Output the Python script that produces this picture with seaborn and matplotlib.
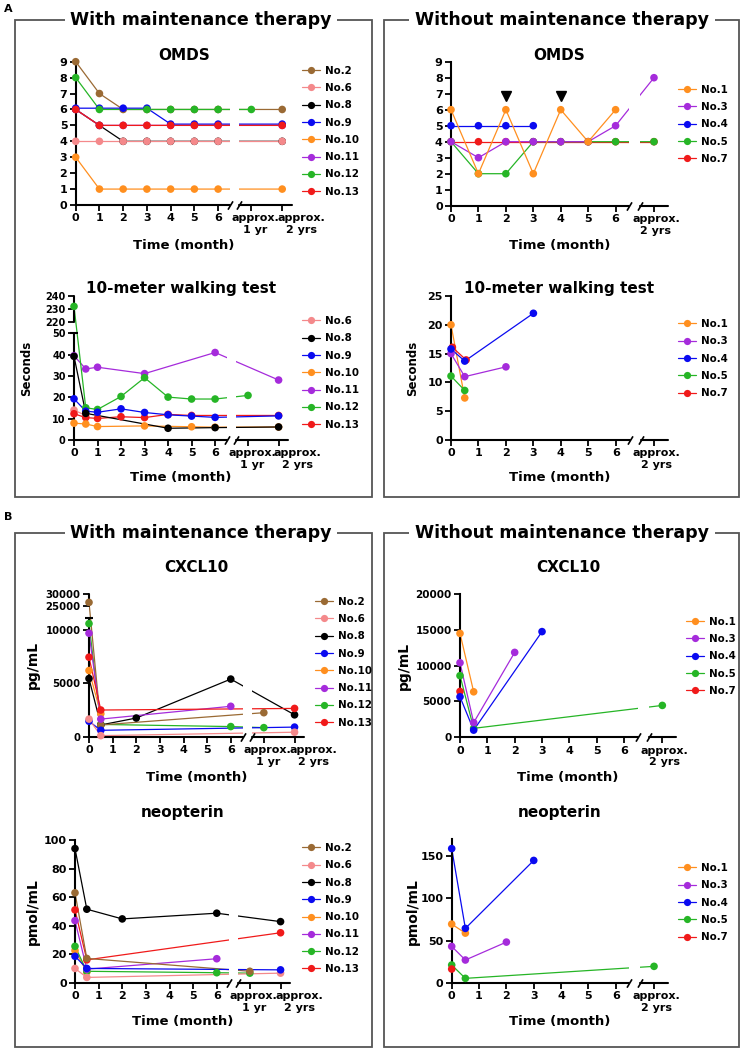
import numpy as np
import pandas as pd
import seaborn as sns
import matplotlib.pyplot as plt
from matplotlib.lines import Line2D
from matplotlib.patches import Rectangle

W, H = 742, 1049

# colour of every patient
colors = {'No.1': '#FF8F1F', 'No.2': '#9A6A34', 'No.3': '#A52BDB', 'No.4': '#0A0AF0',
          'No.5': '#26B526', 'No.6': '#F4898B', 'No.7': '#F01A1A', 'No.8': '#000000',
          'No.9': '#0A0AF0', 'No.10': '#FF8F1F', 'No.11': '#A52BDB', 'No.12': '#26B526',
          'No.13': '#F01A1A'}

with_patients = ['No.2', 'No.6', 'No.8', 'No.9', 'No.10', 'No.11', 'No.12', 'No.13']
walk_patients = ['No.6', 'No.8', 'No.9', 'No.10', 'No.11', 'No.12', 'No.13']
without_patients = ['No.1', 'No.3', 'No.4', 'No.5', 'No.7']

left_ticks = [0, 1, 2, 3, 4, 5, 6, '1yr', '2yr']
left_ticklabels = ['0', '1', '2', '3', '4', '5', '6', 'approx.\n1 yr', 'approx.\n2 yrs']
right_ticks = [0, 1, 2, 3, 4, 5, 6, '2yr']
right_ticklabels = ['0', '1', '2', '3', '4', '5', '6', 'approx.\n2 yrs']

# time (month or label) -> value
omds_with = {
    'No.2': ([0, 1, 2, 3, 4, 5, 6, '2yr'], [9, 7, 6, 6, 6, 6, 6, 6]),
    'No.6': ([0, 1, 2, 3, 4, 5, 6, '2yr'], [4, 4, 4, 4, 4, 4, 4, 4]),
    'No.8': ([0, 1, 2, 3, 4, 5, 6, '2yr'], [6, 5, 4, 4, 4, 4, 4, 4]),
    'No.9': ([0, 1, 2, 3, 4, 5, 6, '2yr'], [6.08, 6.08, 6.08, 6.08, 5.08, 5.08, 5.08, 5.08]),
    'No.10': ([0, 1, 2, 3, 4, 5, 6, '2yr'], [3, 1, 1, 1, 1, 1, 1, 1]),
    'No.11': ([0, 1, 2, 3, 4, 5, 6, '2yr'], [6, 5, 5, 5, 5, 5, 5, 5]),
    'No.12': ([0, 1, 3, 4, 5, 6, '1yr'], [8, 6, 6, 6, 6, 6, 6]),
    'No.13': ([0, 1, 2, 3, 4, 5, 6, '2yr'], [6, 5, 5, 5, 5, 5, 5, 5]),
}
omds_with_order = ['No.2', 'No.8', 'No.6', 'No.11', 'No.9', 'No.12', 'No.10', 'No.13']

omds_without = {
    'No.1': ([0, 1, 2, 3, 4, 5, 6], [6, 2, 6, 2, 6, 4, 6]),
    'No.3': ([0, 1, 2, 3, 4, 5, 6, '2yr'], [4, 3, 4, 4, 4, 4, 5, 8]),
    'No.4': ([0, 1, 2, 3], [5, 5, 5, 5]),
    'No.5': ([0, 1, 2, 3, 4, 5, 6, '2yr'], [4, 2, 2, 4, 4, 4, 4, 4]),
    'No.7': ([0, 1, 2, 3, 4, 5, 6, '2yr'], [4, 4, 4, 4, 4, 4, 4, 4]),
}
omds_without_order = ['No.7', 'No.5', 'No.3', 'No.4', 'No.1']
omds_arrows = [2, 4]

walk_with = {
    'No.6': ([0, 0.5], [14, 11.5]),
    'No.8': ([0, 0.5, 4, 6, '2yr'], [39.2, 12.5, 5.5, 5.8, 6.1]),
    'No.9': ([0, 0.5, 1, 2, 3, 4, 5, 6, '2yr'], [19.3, 13.5, 13, 14.6, 12.9, 11.8, 11.2, 10.6, 11.3]),
    'No.10': ([0, 0.5, 1, 3, 5, 6, '2yr'], [7.9, 7.5, 6.3, 6.6, 6.2, 6.0, 6.1]),
    'No.11': ([0, 0.5, 1, 3, 6, '2yr'], [39.5, 33.3, 34.1, 31.1, 41, 28.1]),
    'No.12': ([0, 0.5, 1, 2, 3, 4, 5, 6, '1yr'], [232, 15.1, 14.3, 20.4, 29.2, 20.1, 19.2, 19.2, 20.9]),
    'No.13': ([0, 0.5, 1, 2, 3, 4, 5, '2yr'], [12.3, 10.5, 10.1, 10.9, 10.5, 12, 11.5, 11.5]),
}
walk_with_order = ['No.11', 'No.12', 'No.6', 'No.13', 'No.10', 'No.9', 'No.8']

walk_without = {
    'No.1': ([0, 0.5], [20, 7.3]),
    'No.3': ([0, 0.5, 2], [15, 11, 12.7]),
    'No.4': ([0, 0.5, 3], [15.8, 13.7, 22]),
    'No.5': ([0, 0.5], [11.1, 8.6]),
    'No.7': ([0.05, 0.55], [16.1, 13.9]),
}
walk_without_order = ['No.1', 'No.3', 'No.5', 'No.7', 'No.4']

cxcl_with = {
    'No.2': ([0, 0.5, '1yr'], [26500, 1100, 2250]),
    'No.6': ([0, 0.5, '2yr'], [1650, 100, 420]),
    'No.8': ([0, 0.5, 2, 6, '2yr'], [5450, 1100, 1750, 5400, 2050]),
    'No.9': ([0, 0.5, '2yr'], [1450, 600, 900]),
    'No.10': ([0, 0.5], [6200, 2150]),
    'No.11': ([0, 0.5, 6], [9700, 1650, 2850]),
    'No.12': ([0, 0.5, 6, '1yr'], [10600, 1150, 950, 850]),
    'No.13': ([0, 0.5, '2yr'], [7450, 2500, 2650]),
}
cxcl_with_order = ['No.12', 'No.8', 'No.2', 'No.9', 'No.6', 'No.10', 'No.11', 'No.13']

cxcl_without = {
    'No.1': ([0, 0.5], [14500, 6350]),
    'No.3': ([0, 0.5, 2], [10400, 2050, 11850]),
    'No.4': ([0, 0.5, 3], [5650, 1000, 14750]),
    'No.5': ([0, 0.5, '2yr'], [8600, 1250, 4450]),
    'No.7': ([0], [6400]),
}
cxcl_without_order = ['No.5', 'No.7', 'No.1', 'No.3', 'No.4']

neo_with = {
    'No.2': ([0, 0.5, '1yr'], [63, 17, 8]),
    'No.6': ([0, 0.5, '2yr'], [10, 3.7, 6.7]),
    'No.8': ([0, 0.5, 2, 6, '2yr'], [94, 51.5, 44.7, 48.7, 42.8]),
    'No.9': ([0, 0.5, '2yr'], [18.5, 10, 9]),
    'No.10': ([0, 0.5], [22.5, 7.5]),
    'No.11': ([0, 0.5, 6], [43.5, 9.5, 16.8]),
    'No.12': ([0, 0.5, 6, '1yr'], [25.5, 8, 7, 6.7]),
    'No.13': ([0, 0.5, '2yr'], [51, 16, 35]),
}
neo_with_order = ['No.10', 'No.12', 'No.11', 'No.6', 'No.13', 'No.2', 'No.9', 'No.8']

neo_without = {
    'No.1': ([0, 0.5], [69.7, 59]),
    'No.3': ([0, 0.5, 2], [43.3, 27.2, 48.4]),
    'No.4': ([0, 0.5, 3], [159, 64.6, 145]),
    'No.5': ([0, 0.5, '2yr'], [21.3, 5.5, 19.7]),
    'No.7': ([0], [16.5]),
}
neo_without_order = ['No.5', 'No.7', 'No.3', 'No.1', 'No.4']

sns.set_style('ticks')
plt.rcParams['font.family'] = ['DejaVu Sans']
plt.rcParams['font.weight'] = 'bold'
plt.rcParams['axes.labelweight'] = 'bold'
plt.rcParams['axes.titleweight'] = 'bold'
plt.rcParams['text.color'] = 'black'

fig = plt.figure(figsize=(W / 100, H / 100), dpi=100)

LEFT_POS = {'1yr': 7.4, '2yr': 8.7}
RIGHT_POS = {'2yr': 7.4}
# shift (px) of the "approx." labels, as GraphPad spread them apart
LEFT_SHIFT = {'1yr': 4, '2yr': 19}
RIGHT_SHIFT = {'2yr': 2}


def fx(px):
    return px / W


def fy(py):
    return 1 - py / H


def broken_scale(lo, hi, gap, ratio):
    def fwd(y):
        y = np.asarray(y, dtype=float)
        return np.where(y <= lo, y, np.where(y >= hi, lo + gap + (y - hi) * ratio,
                                             lo + (y - lo) * gap / (hi - lo)))

    def inv(u):
        u = np.asarray(u, dtype=float)
        return np.where(u <= lo, u, np.where(u >= lo + gap, hi + (u - lo - gap) / ratio,
                                             lo + (u - lo) * (hi - lo) / gap))
    return fwd, inv


def draw_panel(box, series, legend_order, draw_order, pos, shift, ticks, ticklabels, xmax,
               yticks, ylim, title, title_y, xlabel_y, legend_xy,
               ylabel=None, ylabel_x=None, ylabel_size=10, scale=None, segments=None,
               ytick_size=8):
    x0, y0, x1, y1 = box
    ax = fig.add_axes([fx(x0), fy(y1), fx(x1 - x0), (y1 - y0) / H])
    rows = []
    for name in draw_order:
        t, v = series[name]
        for ti, vi in zip(t, v):
            rows.append((name, pos.get(ti, ti), vi))
    df = pd.DataFrame(rows, columns=['patient', 'x', 'y'])

    sns.lineplot(data=df, x='x', y='y', hue='patient', hue_order=draw_order, palette=colors,
                 estimator=None, errorbar=None, lw=0.9, legend=False, ax=ax, zorder=2)
    # gap of the lines at the axis break
    ax.axvspan(6.5, 6.9, color='white', lw=0, zorder=2.3)
    sns.scatterplot(data=df, x='x', y='y', hue='patient', palette=colors, s=30, linewidth=0,
                    legend=False, ax=ax, zorder=3, clip_on=False)

    if scale is not None:
        ax.set_yscale('function', functions=scale)
    ax.set_xlim(0, xmax)
    ax.set_ylim(*ylim)
    ax.set_xticks([pos.get(t, t) for t in ticks])
    ax.set_xticklabels([lab if not isinstance(t, str) else '' for t, lab in zip(ticks, ticklabels)])
    for t, lab in zip(ticks, ticklabels):
        if isinstance(t, str):
            ax.annotate(lab, xy=(pos[t], 0), xycoords=ax.get_xaxis_transform(),
                        xytext=(shift[t] * 0.72, -6), textcoords='offset points',
                        ha='center', va='top', fontsize=8, fontweight='bold',
                        annotation_clip=False)
    ax.set_yticks(yticks)
    ax.set_yticklabels([str(v) for v in yticks])
    ax.tick_params(direction='out', length=4, width=1.3, pad=2, colors='black')
    ax.tick_params(axis='x', labelsize=8)
    ax.tick_params(axis='y', labelsize=ytick_size)
    ax.xaxis.set_minor_locator(plt.NullLocator())
    ax.yaxis.set_minor_locator(plt.NullLocator())
    for side in ['top', 'right', 'bottom']:
        ax.spines[side].set_visible(False)
    ax.spines['left'].set_linewidth(1.5)
    ax.spines['left'].set_color('black')

    # broken x axis
    xt = ax.get_xaxis_transform()
    ax.plot([0, 6.5], [0, 0], color='k', lw=1.5, transform=xt, clip_on=False, zorder=2.6)
    ax.plot([6.9, xmax], [0, 0], color='k', lw=1.5, transform=xt, clip_on=False, zorder=2.6)
    ax.plot([6.5, 6.9], [0, 0], transform=xt, ls='none', marker=[(-0.6, -1), (0.6, 1)],
            ms=6, mew=1.2, mec='k', color='k', clip_on=False, zorder=2.6)

    # broken y axis
    if segments is not None:
        ax.spines['left'].set_visible(False)
        yt = ax.get_yaxis_transform()
        for a, b in segments:
            ax.plot([0, 0], [a, b], color='k', lw=1.5, transform=yt, clip_on=False,
                    zorder=2.6)
        ax.plot([0], [segments[0][1]], transform=yt, ls='none', marker='_', ms=6, mew=1.5,
                color='k', clip_on=False, zorder=2.6)

    ax.set_xlabel('')
    ax.set_ylabel('')
    ax.set_title(title, fontsize=11, fontweight='bold', va='center',
                 y=1 + (y0 - title_y) / (y1 - y0), pad=0)
    fig.text(fx((x0 + x1) / 2), fy(xlabel_y), 'Time (month)', ha='center', va='center',
             fontsize=9.5, fontweight='bold')
    if ylabel is not None:
        fig.text(fx(ylabel_x), fy((y0 + y1) / 2), ylabel, rotation=90, ha='center',
                 va='center', fontsize=ylabel_size, fontweight='bold')

    handles = [Line2D([0], [0], color=colors[p], lw=0.9, marker='o', ms=5.2, mew=0)
               for p in legend_order]
    ax.legend(handles, legend_order, loc='upper left',
              bbox_to_anchor=(fx(legend_xy[0]), fy(legend_xy[1] - 6)),
              bbox_transform=fig.transFigure, frameon=False, borderpad=0, borderaxespad=0,
              handlelength=1.75, handletextpad=0.5, labelspacing=0.71,
              prop={'size': 7.4, 'weight': 'bold'})
    return ax


# ---- panel A ----
draw_panel((75.7, 61.7, 291.7, 205), omds_with, with_patients, omds_with_order, LEFT_POS,
           LEFT_SHIFT, left_ticks, left_ticklabels, 9.1, list(range(10)), (0, 9), 'OMDS',
           56, 245, (302, 71.7))
ax = draw_panel((451, 61.7, 667.7, 205.7), omds_without, without_patients, omds_without_order,
                RIGHT_POS, RIGHT_SHIFT, right_ticks, right_ticklabels, 7.9, list(range(10)),
                (0, 9), 'OMDS', 56, 245, (678, 90.7))
ax.plot(omds_arrows, [6.85] * len(omds_arrows), ls='none', marker='v', ms=6.5, color='k',
        zorder=4)

draw_panel((74, 296, 288, 440), walk_with, walk_patients, walk_with_order, LEFT_POS,
           LEFT_SHIFT, left_ticks, left_ticklabels, 9.1,
           [0, 10, 20, 30, 40, 50, 220, 230, 240], (0, 240),
           '10-meter walking test', 288, 478, (302, 322), ylabel='Seconds', ylabel_x=27,
           ylabel_size=8.5, scale=broken_scale(50, 220, 5.3, 0.609),
           segments=[(0, 50), (220, 240)], ytick_size=7)
draw_panel((451, 296, 668, 440), walk_without, without_patients, walk_without_order, RIGHT_POS,
           RIGHT_SHIFT, right_ticks, right_ticklabels, 7.9, [0, 5, 10, 15, 20, 25], (0, 25),
           '10-meter walking test', 288, 478, (678, 325), ylabel='Seconds', ylabel_x=413,
           ylabel_size=8.5)

# ---- panel B ----
draw_panel((89, 594, 304, 736.7), cxcl_with, with_patients, cxcl_with_order, LEFT_POS,
           LEFT_SHIFT, left_ticks, left_ticklabels, 9.1, [0, 5000, 10000, 25000, 30000],
           (0, 30000), 'CXCL10', 567.5, 777, (315, 602.7), ylabel='pg/mL', ylabel_x=33,
           scale=broken_scale(11100, 25000, 1150, 0.225),
           segments=[(0, 11100), (25000, 30000)], ytick_size=7.3)
draw_panel((460, 594, 676, 737.3), cxcl_without, without_patients, cxcl_without_order,
           RIGHT_POS, RIGHT_SHIFT, right_ticks, right_ticklabels, 7.9,
           [0, 5000, 10000, 15000, 20000], (0, 20000), 'CXCL10', 567.5, 777, (686, 622.7),
           ylabel='pg/mL', ylabel_x=404, ytick_size=7.5)
draw_panel((75, 840, 290, 982.7), neo_with, with_patients, neo_with_order, LEFT_POS,
           LEFT_SHIFT, left_ticks, left_ticklabels, 9.1, [0, 20, 40, 60, 80, 100], (0, 100),
           'neopterin', 812, 1021.7, (302, 849), ylabel='pmol/mL', ylabel_x=33)
draw_panel((451.7, 839.3, 667.7, 983), neo_without, without_patients, neo_without_order,
           RIGHT_POS, RIGHT_SHIFT, right_ticks, right_ticklabels, 7.9, [0, 50, 100, 150],
           (0, 170), 'neopterin', 812, 1021.7, (678, 869), ylabel='pmol/mL', ylabel_x=413)

# ---- frames and group titles ----
frames = [((15, 20, 372, 497), 'With maintenance therapy', 201),
          ((384, 20, 739, 497), 'Without maintenance therapy', 562),
          ((15, 533, 372, 1047), 'With maintenance therapy', 201),
          ((384, 533, 739, 1047), 'Without maintenance therapy', 562)]
for (a, b, c, d), label, cx in frames:
    fig.add_artist(Rectangle((fx(a), fy(d)), fx(c - a), (d - b) / H, transform=fig.transFigure,
                             fill=False, ec='#555555', lw=1.3, zorder=0))
    fig.text(fx(cx), fy(b), label, ha='center', va='center', fontsize=12.5, fontweight='bold',
             zorder=5, bbox=dict(fc='white', ec='none', pad=4))

fig.text(fx(8), fy(9), 'A', ha='center', va='center', fontsize=8, fontweight='bold')
fig.text(fx(8), fy(517), 'B', ha='center', va='center', fontsize=8, fontweight='bold')

fig.savefig('out.png', dpi=100)
